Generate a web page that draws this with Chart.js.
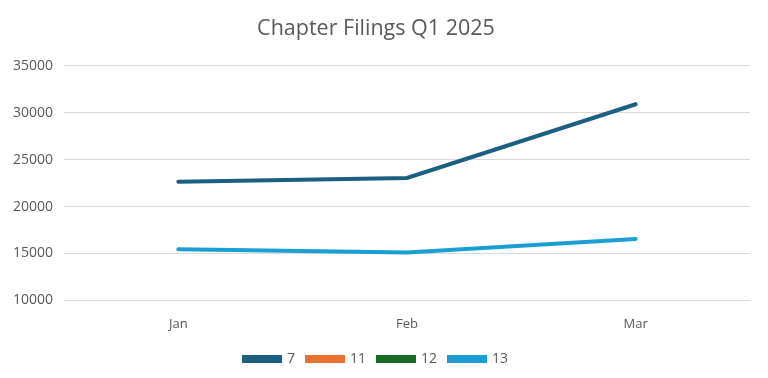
<!DOCTYPE html>
<html>
<head>
<meta charset="utf-8">
<script src="https://cdn.jsdelivr.net/npm/chart.js@4"></script>
<style>
  html, body { margin: 0; padding: 0; background: #fff; }
  #wrap { width: 768px; height: 378px; }
</style>
</head>
<body>
<div id="wrap"><canvas id="chart" width="768" height="378"></canvas></div>
<script>
// Chart data
const months = ['Jan', 'Feb', 'Mar'];
const seriesNames = ['7', '11', '12', '13'];
const chapter7 = [22650, 23050, 30900];
const chapter11 = [650, 700, 750];
const chapter12 = [40, 45, 50];
const chapter13 = [15450, 15100, 16550];
const yTicks = [10000, 15000, 20000, 25000, 30000, 35000];

const colors = ['#1c5f80', '#e97132', '#196b24', '#1b9fd3'];
const values = [chapter7, chapter11, chapter12, chapter13];

const ctx = document.getElementById('chart').getContext('2d');
const myChart = new Chart(ctx, {
    type: 'line',
    data: {
        labels: months,
        datasets: seriesNames.map((name, i) => ({
            label: name,
            data: values[i],
            borderColor: colors[i],
            backgroundColor: colors[i],
            borderWidth: 4,
            pointRadius: 0,
            tension: 0,
            borderCapStyle: 'round'
        }))
    },
    options: {
        responsive: false,
        animation: false,
        layout: { padding: { left: 2, right: 18, top: 16, bottom: 2 } },
        plugins: {
            title: {
                display: true,
                text: 'Chapter Filings Q1 2025',
                color: '#595959',
                font: { family: 'Open Sans', size: 21.5, weight: 'normal' },
                padding: { top: 0, bottom: 24 }
            },
            legend: {
                position: 'bottom',
                labels: {
                    boxWidth: 36,
                    boxHeight: 4,
                    color: '#595959',
                    font: { family: 'Open Sans', size: 14 },
                    padding: 12
                }
            },
            tooltip: { enabled: false }
        },
        scales: {
            x: {
                offset: true,
                grid: { display: false },
                border: { display: false },
                ticks: { color: '#595959', font: { family: 'Open Sans', size: 13 }, padding: 8 }
            },
            y: {
                min: yTicks[0],
                max: yTicks[yTicks.length - 1],
                afterBuildTicks: axis => { axis.ticks = yTicks.map(v => ({ value: v })); },
                grid: { color: '#d9d9d9', lineWidth: 1, drawTicks: false },
                border: { display: false },
                ticks: {
                    color: '#595959',
                    font: { family: 'Open Sans', size: 14 },
                    padding: 11,
                    callback: v => String(v)
                }
            }
        }
    }
});
</script>
</body>
</html>
